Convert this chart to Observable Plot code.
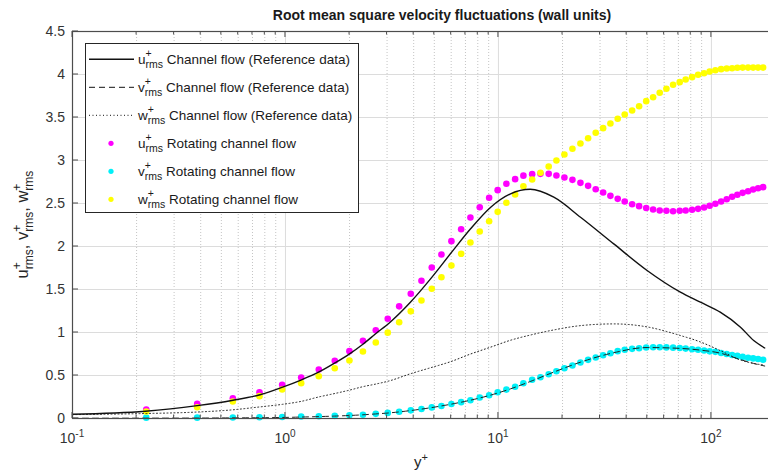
<!DOCTYPE html>
<html>
<head>
<meta charset="utf-8">
<script src="https://cdn.jsdelivr.net/npm/d3@7"></script>
<script src="https://cdn.jsdelivr.net/npm/@observablehq/plot@0.6"></script>
<style>
  html, body { margin: 0; padding: 0; background: #fff; overflow: hidden; }
  #chart svg { overflow: hidden; }
</style>
</head>
<body>
<div id="chart"></div>
<script>
// ---- Rotating channel flow (DNS grid points, wall units) ----
const yPlusRot = [0.222, 0.385, 0.566, 0.755, 0.965, 1.185, 1.434, 1.704, 1.997, 2.311,
  2.655, 3.022, 3.419, 3.876, 4.351, 4.864, 5.400, 6.016, 6.683, 7.388,
  8.170, 9.044, 9.92, 10.90, 11.98, 13.10, 14.40, 15.75, 17.22, 18.72,
  20.41, 22.26, 24.27, 26.37, 28.63, 31.02, 33.56, 36.32, 39.17, 42.44,
  45.77, 49.42, 53.25, 57.20, 61.48, 66.09, 70.99, 75.73, 81.17, 86.62,
  92.41, 98.15, 104.4, 111.1, 118.0, 125.1, 132.4, 140.2, 148.7, 157.0,
  165.7, 174.9];
const uRot = [0.105, 0.17, 0.236, 0.306, 0.392, 0.477, 0.570, 0.671, 0.783, 0.903,
  1.027, 1.160, 1.304, 1.450, 1.601, 1.756, 1.907, 2.062, 2.201, 2.337,
  2.457, 2.566, 2.655, 2.729, 2.783, 2.824, 2.841, 2.845, 2.845, 2.826,
  2.802, 2.775, 2.740, 2.705, 2.666, 2.628, 2.589, 2.554, 2.523, 2.492,
  2.469, 2.448, 2.430, 2.419, 2.415, 2.410, 2.415, 2.419, 2.427, 2.438,
  2.453, 2.473, 2.497, 2.523, 2.550, 2.578, 2.601, 2.624, 2.643, 2.663,
  2.678, 2.690];
const vRot = [0.010, 0.010, 0.012, 0.015, 0.018, 0.023, 0.027, 0.031, 0.037, 0.044,
  0.054, 0.065, 0.079, 0.095, 0.111, 0.129, 0.145, 0.168, 0.190, 0.213,
  0.244, 0.270, 0.306, 0.336, 0.370, 0.410, 0.450, 0.480, 0.515, 0.550,
  0.585, 0.616, 0.651, 0.682, 0.709, 0.736, 0.759, 0.783, 0.799, 0.810,
  0.817, 0.825, 0.829, 0.829, 0.827, 0.824, 0.819, 0.813, 0.806, 0.800,
  0.790, 0.781, 0.775, 0.761, 0.750, 0.738, 0.728, 0.716, 0.707, 0.699,
  0.692, 0.684];
const wRot = [0.080, 0.131, 0.198, 0.260, 0.337, 0.411, 0.492, 0.585, 0.674, 0.779,
  0.884, 0.998, 1.120, 1.246, 1.372, 1.508, 1.643, 1.779, 1.915, 2.047,
  2.174, 2.294, 2.403, 2.508, 2.605, 2.700, 2.779, 2.857, 2.930, 3.000,
  3.070, 3.136, 3.198, 3.259, 3.322, 3.376, 3.430, 3.485, 3.535, 3.581,
  3.630, 3.690, 3.736, 3.787, 3.834, 3.880, 3.911, 3.942, 3.969, 3.997,
  4.015, 4.035, 4.050, 4.062, 4.070, 4.073, 4.078, 4.080, 4.080, 4.080,
  4.080, 4.080];

// ---- Plane channel flow reference data ----
const yPlusRef = [0.1, 0.22, 0.385, 0.56, 0.76, 0.97, 1.19, 1.43, 1.7, 2.0,
  2.31, 2.65, 3.1, 3.86, 4.8, 5.95, 7.4, 9.2, 11.4, 14.1,
  18.2, 24.3, 34.8, 49.9, 71.5, 88.8, 110, 137, 158, 178];
const uRef = [0.05, 0.085, 0.15, 0.21, 0.276, 0.365, 0.45, 0.538, 0.643, 0.752,
  0.864, 0.985, 1.12, 1.352, 1.624, 1.915, 2.206, 2.457, 2.613, 2.665,
  2.573, 2.34, 2.03, 1.721, 1.469, 1.352, 1.236, 1.062, 0.907, 0.82];
const vRef = [0.003, 0.004, 0.005, 0.007, 0.009, 0.012, 0.017, 0.022, 0.028, 0.035,
  0.043, 0.053, 0.066, 0.092, 0.125, 0.165, 0.213, 0.272, 0.345, 0.43,
  0.54, 0.655, 0.765, 0.825, 0.815, 0.795, 0.76, 0.685, 0.64, 0.61];
const wRef = [0.045, 0.058, 0.075, 0.10, 0.135, 0.165, 0.20, 0.25, 0.29, 0.33,
  0.37, 0.40, 0.44, 0.52, 0.59, 0.66, 0.75, 0.83, 0.91, 0.97,
  1.03, 1.08, 1.10, 1.065, 0.965, 0.89, 0.79, 0.68, 0.64, 0.62];

// ---- Axes ----
const xDecades = [0.1, 1, 10, 100];
const xExponents = ["-1", "0", "1", "2"];
const yTicks = [0, 0.5, 1, 1.5, 2, 2.5, 3, 3.5, 4, 4.5];
const yTickLabels = ["0", "0.5", "1", "1.5", "2", "2.5", "3", "3.5", "4", "4.5"];
const xMinor = xDecades.flatMap(d => [2, 3, 4, 5, 6, 7, 8, 9].map(k => d * k)).filter(v => v <= 200);

const titleText = "Root mean square velocity fluctuations (wall units)";
const legendRows = [
  {sym: "u", text: "Channel flow (Reference data)", kind: "solid"},
  {sym: "v", text: "Channel flow (Reference data)", kind: "dashed"},
  {sym: "w", text: "Channel flow (Reference data)", kind: "dotted"},
  {sym: "u", text: "Rotating channel flow", kind: "#ff00ff"},
  {sym: "v", text: "Rotating channel flow", kind: "#00f0f8"},
  {sym: "w", text: "Rotating channel flow", kind: "#ffff00"}
];

const rot = yPlusRot.map((y, i) => ({y, u: uRot[i], v: vRot[i], w: wRot[i]}));
const ref = yPlusRef.map((y, i) => ({y, u: uRef[i], v: vRef[i], w: wRef[i]}));

const FONT = '"Liberation Sans", Arial, Helvetica, sans-serif';
const AX = "#4d4d4d";

const plot = Plot.plot({
  width: 768,
  height: 474,
  marginLeft: 72,
  marginRight: -7,
  marginTop: 31,
  marginBottom: 56,
  style: {fontFamily: FONT, background: "#fff"},
  x: {type: "log", domain: [0.1, 200], range: [72, 775], axis: null},
  y: {domain: [0, 4.5], range: [418, 31], axis: null},
  marks: [
    Plot.ruleX(xMinor, {x: d => d, stroke: "#c4c4c4", strokeDasharray: "1,2", strokeWidth: 1}),
    Plot.ruleX(xDecades, {x: d => d, stroke: "#dcdcdc", strokeWidth: 1}),
    Plot.ruleY(yTicks, {y: d => d, stroke: "#dcdcdc", strokeWidth: 1}),
    Plot.dot(rot, {x: "y", y: "u", r: 3.3, fill: "#ff00ff"}),
    Plot.dot(rot, {x: "y", y: "v", r: 3.3, fill: "#00f0f8"}),
    Plot.dot(rot, {x: "y", y: "w", r: 3.3, fill: "#ffff00"}),
    Plot.line(ref, {x: "y", y: "w", stroke: "#222", strokeWidth: 1, strokeDasharray: "1,2.5", curve: "monotone-x"}),
    Plot.line(ref, {x: "y", y: "v", stroke: "#222", strokeWidth: 1, strokeDasharray: "6,4", curve: "monotone-x"}),
    Plot.line(ref, {x: "y", y: "u", stroke: "#111", strokeWidth: 1.4, curve: "monotone-x"}),
    Plot.frame({stroke: AX, strokeWidth: 1.2})
  ]
});

document.getElementById("chart").appendChild(plot);

const sx = plot.scale("x"), sy = plot.scale("y");
const svg = d3.select(plot);
const yBottom = sy.apply(0), yTop = sy.apply(4.5), xLeft = sx.apply(0.1);

// inward tick marks
const tk = svg.append("g").attr("stroke", AX).attr("stroke-width", 1);
for (const v of xDecades) {
  const x = sx.apply(v);
  tk.append("line").attr("x1", x).attr("x2", x).attr("y1", yBottom).attr("y2", yBottom - 6);
  tk.append("line").attr("x1", x).attr("x2", x).attr("y1", yTop).attr("y2", yTop + 6);
}
for (const v of xMinor) {
  const x = sx.apply(v);
  tk.append("line").attr("x1", x).attr("x2", x).attr("y1", yBottom).attr("y2", yBottom - 3.5);
  tk.append("line").attr("x1", x).attr("x2", x).attr("y1", yTop).attr("y2", yTop + 3.5);
}
for (const v of yTicks) {
  const y = sy.apply(v);
  tk.append("line").attr("x1", xLeft).attr("x2", xLeft + 6).attr("y1", y).attr("y2", y);
}

// tick labels
const lab = svg.append("g").attr("font-family", FONT).attr("fill", "#333");
xDecades.forEach((v, i) => {
  const t = lab.append("text").attr("x", sx.apply(v)).attr("y", 443)
    .attr("text-anchor", "middle").attr("font-size", 14);
  t.append("tspan").text("10");
  t.append("tspan").attr("font-size", 10).attr("dy", -6).text(xExponents[i]);
});
yTicks.forEach((v, i) => {
  lab.append("text").attr("x", xLeft - 7).attr("y", sy.apply(v)).attr("dy", "0.36em")
    .attr("text-anchor", "end").attr("font-size", 14).text(yTickLabels[i]);
});

// axis titles
const xl = lab.append("text").attr("x", 421).attr("y", 467).attr("text-anchor", "middle")
  .attr("font-size", 15).attr("fill", "#262626");
xl.append("tspan").text("y");
xl.append("tspan").attr("font-size", 11).attr("dy", -6.5).text("+");

const yl = lab.append("text").attr("transform", `translate(28,${(yTop + yBottom) / 2}) rotate(-90)`)
  .attr("text-anchor", "middle").attr("font-size", 16.5).attr("fill", "#262626");
["u", "v", "w"].forEach((s, i) => {
  yl.append("tspan").attr("dy", i === 0 ? 0 : -5).text((i === 0 ? "" : ", ") + s);
  yl.append("tspan").attr("font-size", 12).attr("dy", -7).text("+");
  yl.append("tspan").attr("font-size", 12).attr("dx", -7).attr("dy", 12).text("rms");
});

svg.append("text").attr("x", 442).attr("y", 20).attr("text-anchor", "middle")
  .attr("font-family", FONT).attr("font-size", 14).attr("font-weight", "bold")
  .attr("fill", "#1a1a1a").text(titleText);

// legend
const lg = svg.append("g").attr("font-family", FONT).attr("text-anchor", "start");
lg.append("rect").attr("x", 85.5).attr("y", 43.5).attr("width", 273).attr("height", 169)
  .attr("fill", "#fff").attr("stroke", "#262626").attr("stroke-width", 1);
legendRows.forEach((row, i) => {
  const base = 63.5 + 28 * i;
  const cy = base - 4.2;
  if (row.kind === "solid" || row.kind === "dashed" || row.kind === "dotted") {
    lg.append("line").attr("x1", 89).attr("x2", 134).attr("y1", cy).attr("y2", cy)
      .attr("stroke", "#111").attr("stroke-width", row.kind === "solid" ? 1.4 : 1)
      .attr("stroke-dasharray", row.kind === "dashed" ? "6,4" : row.kind === "dotted" ? "1,2.5" : null);
  } else {
    lg.append("circle").attr("cx", 111).attr("cy", cy).attr("r", 2.6).attr("fill", row.kind);
  }
  const t = lg.append("text").attr("x", 138).attr("y", base).attr("text-anchor", "start")
    .attr("font-size", 13.5).attr("fill", "#1a1a1a");
  t.append("tspan").text(row.sym);
  t.append("tspan").attr("font-size", 10.5).attr("dy", -6.5).text("+");
  t.append("tspan").attr("font-size", 10.5).attr("dx", -6.1).attr("dy", 10.5).text("rms");
  t.append("tspan").attr("dy", -4).text(" " + row.text);
});
</script>
</body>
</html>
